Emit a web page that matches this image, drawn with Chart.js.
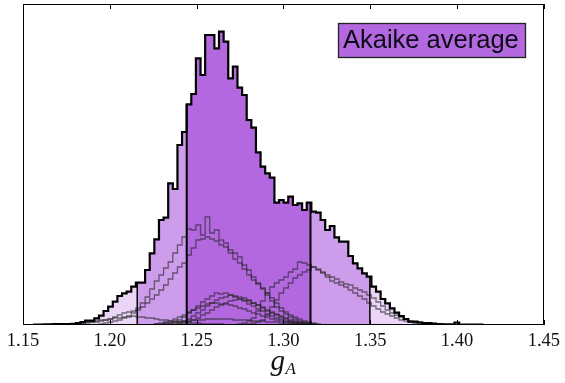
<!DOCTYPE html>
<html>
<head>
<meta charset="utf-8">
<script src="https://cdn.jsdelivr.net/npm/chart.js@4.4.1/dist/chart.umd.min.js"></script>
<style>
  html, body { margin: 0; padding: 0; background: #fff; }
</style>
</head>
<body>
<canvas id="histChart" width="565" height="383"></canvas>
<script>
// histogram bins
const BIN_START = 1.1565;
const BIN_WIDTH = 0.00266;
const xTicks = [1.15, 1.20, 1.25, 1.30, 1.35, 1.40, 1.45];

// Akaike average (bar heights, arbitrary units)
const envelope = [
  0.5, 0.5, 0.6, 0.7, 0.8, 0.8, 1, 1, 1.2, 2,
  3, 4.3, 4.3, 6.7, 9.3, 14, 18.3, 23.3, 29, 31.7,
  33.3, 38.3, 42.3, 42.3, 55, 71.7, 85.7, 105, 107.3, 141.7,
  136, 180, 193, 220.7, 231, 266.7, 250, 290, 290, 276.7,
  293.3, 283.3, 246.7, 258.3, 237.3, 230, 205, 197.3, 172.7, 158.3,
  151.7, 147.3, 122.3, 125, 122.3, 128.3, 120, 121.7, 115, 122.3,
  113.3, 112.3, 105, 95, 99, 87.7, 83.3, 83.3, 69, 61.7,
  56.7, 51.7, 48.3, 38.3, 33.3, 26, 21.7, 16.7, 12.3, 9,
  6, 3.3, 3.3, 2.5, 2, 2, 1.5, 1, 0.7, 0.7,
  0.7, 2.5, 0.5, 0.5, 0.5, 0.5, 0.5
];

// interval bounds (95% / 68%)
const bounds = [1.2158, 1.2443, 1.3156, 1.3498];

// individual fits: [first bin, heights...]
const fitL1 = [14, [1,2,3,4,5,7,9,12,17,22, 28,36,44,50,57,63,72,80,88,96, 95,100,90,108,92,95,85,82,75,72, 68,60,55,48,42,36,30,24,18,14, 11,8,6,4,3,2,1]];
const fitL2 = [8, [1,1,2,2,3,3,4,5,6,8, 10,12,13,14,15,18,22,26,30,35, 40,46,52,58,62,70,77,85,86,88, 86,84,80,78,72,66,62,56,50,45, 41,37,32,27,22,17,13,10,8,6, 4,3,2,1]];
const fitR1 = [44, [1,2,4,7,14,24,32,38,42,45, 48,53,56,63,62,60,58,56,53,50, 48,46,43,41,40,37,35,33,30,27, 23,19,15,12,10,8,6,4,3,3, 2,2,1,1,1]];
const fitR2 = [46, [1,2,3,5,10,18,25,32,37,42, 47,50,53,55,58,55,52,48,44,42, 40,38,35,32,29,26,22,19,16,13, 11,9,7,5,4,3,2,2,1,1, 1]];
const fitS1 = [28, [1,2,3,5,8,12,15,19,23,26, 29,32,31,32,30,28,26,24,21,19, 16,14,11,9,7,6,4,3,2,2, 1,1]];
const fitS2 = [30, [1,2,4,6,9,12,15,19,22,25, 27,28,30,29,28,27,25,22,20,17, 14,12,10,8,6,4,3,2,2,1]];
const fitS3 = [31, [1,2,3,5,7,10,12,15,18,20, 22,24,25,26,25,24,22,20,18,15, 13,11,9,7,5,4,3,2,1,1]];
const fitS4 = [26, [1,2,3,4,6,8,10,13,15,17, 19,21,22,22,21,21,20,19,17,16, 14,12,11,9,8,6,5,4,3,2, 2,1]];
const fitS5 = [26, [1,1,2,2,3,3,4,4,5,5, 5,6,6,6,6,6,6,5,5,5, 5,4,4,4,3,3,3,2,2,2, 1,1,1]];
const fitS6 = [6, [1,1,1,2,2,3,3,4,5,5, 6,7,7,8,8,9,8,8,7,7, 6,5,5,4,4,3,3,2,2,2, 1,1,1,1,1]];
const fits = [fitL1, fitL2, fitR1, fitR2, fitS1, fitS2, fitS3, fitS4, fitS5, fitS6];

const DARK = "#b368e0";
const MID = "#cd9ceb";
const LIGHT = "#ead5f6";

const binEdge = k => BIN_START + k * BIN_WIDTH;

function stepPoints(start, values) {
  const pts = [{ x: binEdge(start), y: 0 }];
  values.forEach((v, i) => pts.push({ x: binEdge(start + i), y: v }));
  pts.push({ x: binEdge(start + values.length), y: 0 });
  return pts;
}

function envAt(x) {
  let k = Math.floor((x - BIN_START) / BIN_WIDTH + 1e-9);
  k = Math.min(Math.max(k, 0), envelope.length - 1);
  return envelope[k];
}

function regionPoints(a, b) {
  const pts = [{ x: a, y: envAt(a) }];
  for (let k = 0; k < envelope.length; k++) {
    const e = binEdge(k);
    if (e > a && e < b) pts.push({ x: e, y: envelope[k] });
  }
  pts.push({ x: b, y: envAt(b - 1e-7) });
  return pts;
}

const edgeEnd = binEdge(envelope.length);
const regions = [
  [binEdge(0), bounds[0], LIGHT],
  [bounds[0], bounds[1], MID],
  [bounds[1], bounds[2], DARK],
  [bounds[2], bounds[3], MID],
  [bounds[3], edgeEnd, LIGHT],
];

const datasets = [];

datasets.push({
  data: stepPoints(0, envelope),
  stepped: true,
  borderColor: "#000",
  borderWidth: 2.2,
  pointRadius: 0,
  fill: false,
  order: 1,
});

bounds.forEach((b, i) => {
  datasets.push({
    data: [{ x: b, y: 0 }, { x: b, y: Math.max(envAt(b - 1e-7), envAt(b)) }],
    borderColor: "#000",
    borderWidth: i === 1 || i === 2 ? 2 : 1.5,
    pointRadius: 0,
    fill: false,
    order: 3,
  });
});

fits.forEach(f => {
  datasets.push({
    data: stepPoints(f[0], f[1]),
    stepped: true,
    borderColor: "rgba(35,35,35,0.6)",
    borderWidth: 1.3,
    pointRadius: 0,
    fill: false,
    order: 5,
  });
});

regions.forEach(r => {
  datasets.push({
    data: regionPoints(r[0], r[1]),
    stepped: true,
    borderColor: "rgba(0,0,0,0)",
    borderWidth: 0,
    backgroundColor: r[2],
    pointRadius: 0,
    fill: "origin",
    order: 10,
  });
});

const framePlugin = {
  id: "frame",
  afterDraw(chart) {
    const { ctx, chartArea: a, scales } = chart;
    ctx.save();
    ctx.strokeStyle = "#000";
    ctx.lineWidth = 1;
    ctx.strokeRect(Math.round(a.left) + 0.5, Math.round(a.top) + 0.5,
      Math.round(a.right - a.left) - 1, Math.round(a.bottom - a.top) - 1);
    xTicks.forEach(v => {
      const px = Math.round(scales.x.getPixelForValue(v)) + 0.5;
      ctx.beginPath();
      ctx.moveTo(px, a.bottom);
      ctx.lineTo(px, a.bottom - 5);
      ctx.moveTo(px, a.top);
      ctx.lineTo(px, a.top + 5);
      ctx.stroke();
    });

    // legend box
    ctx.fillStyle = DARK;
    ctx.fillRect(338.5, 23.5, 187, 34);
    ctx.strokeStyle = "#222";
    ctx.lineWidth = 1.3;
    ctx.strokeRect(338.5, 23.5, 187, 34);
    ctx.fillStyle = "#0a0a14";
    ctx.font = "25.5px 'Liberation Sans', Arial, sans-serif";
    ctx.textBaseline = "alphabetic";
    ctx.textAlign = "left";
    ctx.fillText("Akaike average", 343, 48);

    // x axis title g_A
    const cx = (a.left + a.right) / 2;
    ctx.fillStyle = "#111";
    ctx.font = "italic 29px 'Liberation Serif', serif";
    ctx.fillText("g", cx - 13, 370);
    ctx.font = "italic 17px 'Liberation Serif', serif";
    ctx.fillText("A", cx + 2, 374);
    ctx.restore();
  },
};

new Chart(document.getElementById("histChart"), {
  type: "line",
  data: { datasets },
  options: {
    responsive: false,
    animation: false,
    devicePixelRatio: 1,
    layout: { padding: { left: 23, right: 16, top: 4, bottom: 0 } },
    plugins: { legend: { display: false }, tooltip: { enabled: false } },
    scales: {
      x: {
        type: "linear",
        min: 1.15,
        max: 1.45,
        afterBuildTicks: s => { s.ticks = xTicks.map(v => ({ value: v })); },
        afterFit: s => { s.height = 58; },
        ticks: {
          callback: v => v.toFixed(2),
          font: { family: "'Liberation Serif', serif", size: 18.5 },
          color: "#111",
          padding: 5,
          maxRotation: 0,
          autoSkip: false,
        },
        grid: { display: false, drawTicks: false },
        border: { display: false },
      },
      y: { min: 0, max: 321, display: false },
    },
  },
  plugins: [framePlugin],
});
</script>
</body>
</html>
